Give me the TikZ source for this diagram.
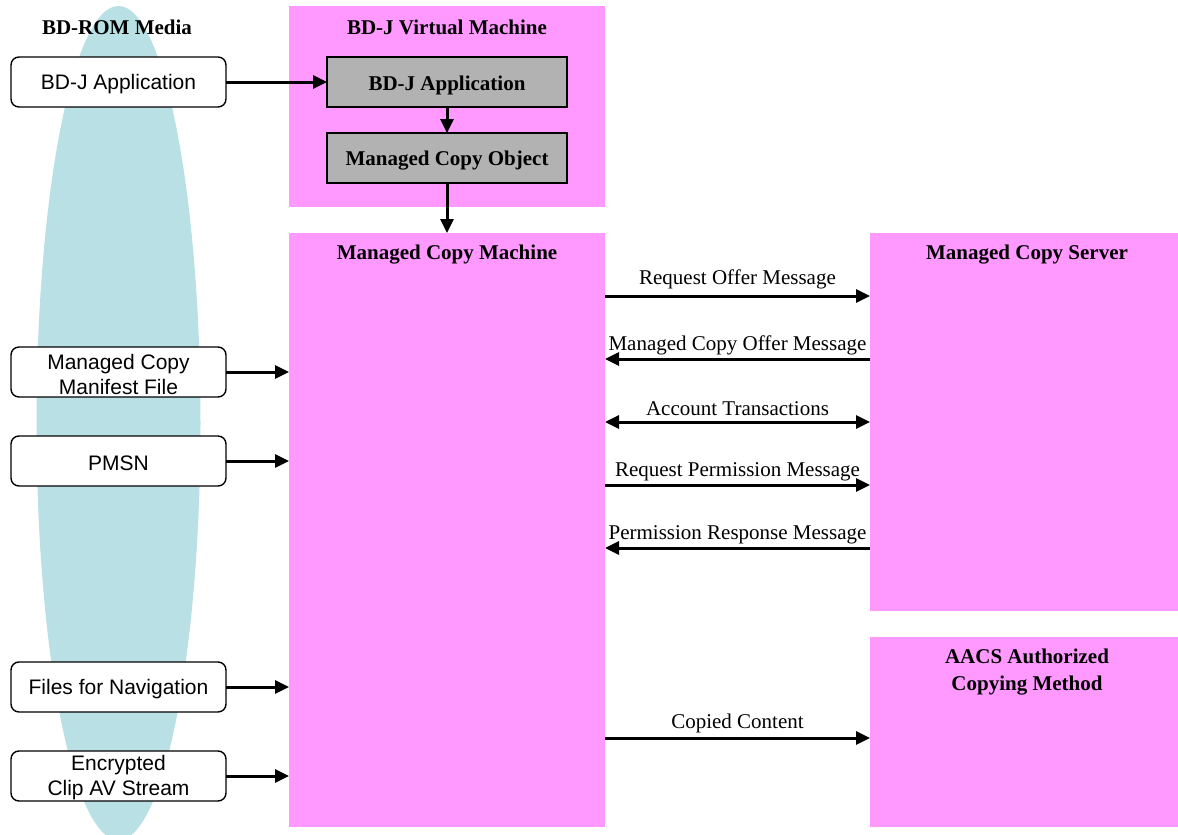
\documentclass[tikz,border=0pt]{standalone}
\usepackage{fontspec}
\setmainfont{Liberation Serif}
\setsansfont{Liberation Sans}
\usetikzlibrary{arrows.meta}
\definecolor{pinkc}{HTML}{FF99FF}
\definecolor{tealc}{HTML}{B9E0E4}
\definecolor{grayc}{HTML}{B2B2B2}
\begin{document}
\begin{tikzpicture}[x=1pt,y=-1pt,
  every node/.style={font=\fontsize{21}{25}\selectfont, inner sep=0pt, outer sep=0pt},
  pinkbox/.style={fill=pinkc, draw=none, anchor=north west},
  title/.style={font=\bfseries\fontsize{21}{27}\selectfont, align=center, anchor=center},
  media/.style={draw=black, line width=1.4pt, rounded corners=8pt, fill=white,
    minimum width=215pt, minimum height=50pt, anchor=north west},
  mtext/.style={align=center, yshift=-2pt, font=\sffamily\fontsize{21}{25}\selectfont},
  graybox/.style={draw=black, line width=1.6pt, fill=grayc, minimum width=240pt,
    minimum height=50pt, anchor=north west},
  gtext/.style={yshift=-3pt, font=\bfseries\fontsize{21}{25}\selectfont},
  arr/.style={line width=3pt, -{Triangle[length=14pt,width=13pt]}},
  darr/.style={line width=3pt, {Triangle[length=14pt,width=13pt]}-{Triangle[length=14pt,width=13pt]}},
  lbl/.style={font=\fontsize{21}{25}\selectfont, anchor=center, yshift=13.5pt}
]
\useasboundingbox (0,0) rectangle (1178,835);
% media ellipse
\fill[tealc] (118.5,423) ellipse [x radius=82, y radius=417];
\node[title] (mediat) at (117,27.5) {BD-ROM Media};

% pink boxes
\node[pinkbox, minimum width=316pt, minimum height=201pt] (vm) at (289,6) {};
\node[title] (vmt) at (447,27.5) {BD-J Virtual Machine};
\node[pinkbox, minimum width=316pt, minimum height=594pt] (mcm) at (289,233) {};
\node[title] (mcmt) at (447,254.5) {Managed Copy Machine};
\node[pinkbox, minimum width=308pt, minimum height=378pt] (mcs) at (870,233) {};
\node[title] (mcst) at (1027,254.5) {Managed Copy Server};
\node[pinkbox, minimum width=308pt, minimum height=190pt] (aacs) at (870,637) {};
\node[title] (aacst) at (1027,672.5) {AACS Authorized\\Copying Method};

% gray boxes
\node[graybox, label={[gtext]center:BD-J Application}] (ga) at (327,57) {};
\node[graybox, label={[gtext]center:Managed Copy Object}] (gm) at (327,133) {};

% media items
\node[media, label={[mtext]center:BD-J Application}] (m1) at (11,57) {};
\node[media, label={[mtext]center:{Managed Copy\\Manifest File}}] (m2) at (11,347) {};
\node[media, label={[mtext]center:PMSN}] (m3) at (11,436) {};
\node[media, label={[mtext]center:Files for Navigation}] (m4) at (11,662) {};
\node[media, label={[mtext]center:{Encrypted\\Clip AV Stream}}] (m5) at (11,751) {};

% arrows
\draw[arr] (m1.east) -- (ga.west);
\draw[arr] (ga.south) -- (gm.north);
\draw[arr] (gm.south) -- (gm.south |- mcm.north);
\draw[arr] (m2.east) -- (m2.east -| mcm.west);
\draw[arr] (m3.east) -- (m3.east -| mcm.west);
\draw[arr] (m4.east) -- (m4.east -| mcm.west);
\draw[arr] (m5.east) -- (m5.east -| mcm.west);

\coordinate (l1) at (605,296); \coordinate (r1) at (870,296);
\coordinate (l2) at (605,359); \coordinate (r2) at (870,359);
\coordinate (l3) at (605,422); \coordinate (r3) at (870,422);
\coordinate (l4) at (605,485); \coordinate (r4) at (870,485);
\coordinate (l5) at (605,548); \coordinate (r5) at (870,548);
\coordinate (l6) at (605,738); \coordinate (r6) at (870,738);
\draw[arr] (l1) -- (r1) node[midway, lbl, yshift=3pt] {Request Offer Message};
\draw[arr] (r2) -- (l2) node[midway, lbl] {Managed Copy Offer Message};
\draw[darr] (l3) -- (r3) node[midway, lbl] {Account Transactions};
\draw[arr] (l4) -- (r4) node[midway, lbl] {Request Permission Message};
\draw[arr] (r5) -- (l5) node[midway, lbl] {Permission Response Message};
\draw[arr] (l6) -- (r6) node[midway, lbl, yshift=1pt] {Copied Content};
\end{tikzpicture}
\end{document}
